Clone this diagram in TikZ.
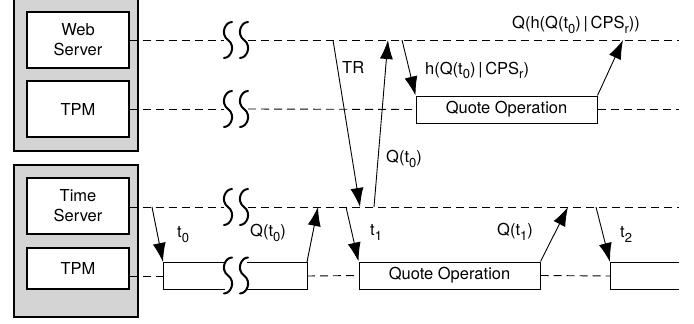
\documentclass[tikz,border=0pt]{standalone}
\usepackage{fontspec}
\setmainfont{TeX Gyre Heros}
\usetikzlibrary{arrows.meta}
% lowered subscript in the label font
\newcommand{\lsub}[1]{\raisebox{-5pt}{\fontsize{13}{13}\selectfont #1}}

\begin{document}
\begin{tikzpicture}[x=1pt,y=-1pt,
  unit/.style={draw, fill=white, line width=1.1pt, align=center, inner sep=0pt,
    minimum width=102pt, font=\fontsize{16.5}{20}\selectfont},
  opbox/.style={draw, fill=white, line width=1pt, inner sep=0pt,
    minimum height=27pt, font=\fontsize{16.5}{20}\selectfont},
  lane/.style={dash pattern=on 8pt off 5pt, line width=0.9pt},
  msg/.style={line width=0.9pt, -{Latex[length=19pt,width=13pt]}},
  lbl/.style={inner sep=0pt, anchor=base west, font=\fontsize{16.5}{20}\selectfont},
  squig/.pic={\draw[line width=2pt, line cap=round]
      (4,-18) .. controls (-3,-18) and (-8,-6) .. (0,0)
      .. controls (8,6) and (3,18) .. (-4,18);}
]
\clip (0,0) rectangle (694,324);

% platform enclosures
\draw[fill=black!17, line width=1.1pt] (14,-5) rectangle (138,151);
\draw[fill=black!17, line width=1.1pt] (14,165) rectangle (138,317);

% components
\node[unit, minimum height=56pt] (web)  at (78,40)    {Web\\Server};
\node[unit, minimum height=56pt] (tpmw) at (78,109)   {TPM};
\node[unit, minimum height=56pt] (ts)   at (78,206)   {Time\\Server};
\node[unit, minimum height=41pt] (tpmt) at (78,268.5) {TPM};

% quote operations
\node[opbox, minimum width=181pt] (qw) at (506.5,109.5) {Quote Operation};
\node[opbox, minimum width=181pt] (qt) at (449.5,275.5) {Quote Operation};

% time breaks
\coordinate (gapL) at (224,0);
\coordinate (gapR) at (248,0);
\foreach \y in {40,109,207,275.5} {
  \pic at (228,\y) {squig};
  \pic at (244,\y) {squig};
}

% life lines
\draw[lane] (web.east) -- (web.east -| gapL);
\draw[lane] (web.east -| gapR) -- (679,40);
\draw[lane] (tpmw.east) -- (tpmw.east -| gapL);
\draw[lane] (tpmw.east -| gapR) -- (qw.west);
\draw[lane] (qw.east) -- (679,109.5);
\draw[lane] (ts.east |- 0,207) -- (224,207);
\draw[lane] (248,207) -- (679,207);

% first quote operation on the time server TPM, cut by the break
\coordinate (b0nw) at (163,262);
\coordinate (b0ne) at (307,262);
\draw[line width=1pt] (225,262) -- (b0nw) -- (163,289) -- (225,289);
\draw[line width=1pt] (247,262) -- (b0ne) -- (307,289) -- (247,289);
% last quote operation, continuing past the edge
\coordinate (b2nw) at (610,262);
\draw[line width=1pt] (679,262) -- (b2nw) -- (610,289) -- (679,289);

\draw[lane] (tpmt.east |- 0,276) -- (163,276);
\draw[lane] (307,276) -- (qt.west);
\draw[lane] (qt.east) -- (610,276);

% message points on the life lines
\coordinate (trs) at (333,40);
\coordinate (tre) at (360,207);
\coordinate (q0s) at (374,207);
\coordinate (q0e) at (388,40);
\coordinate (hs)  at (402,40);
\coordinate (qhe) at (623,40);
\coordinate (t0s) at (152,207);
\coordinate (q0b) at (318,207);
\coordinate (t1s) at (346,207);
\coordinate (q1e) at (568,207);
\coordinate (t2s) at (596,207);

% messages
\draw[msg] (trs) -- (tre);
\draw[msg] (q0s) -- (q0e);
\draw[msg] (hs) -- (qw.north west);
\draw[msg] (qw.north east) -- (qhe);
\draw[msg] (t0s) -- (b0nw);
\draw[msg] (b0ne) -- (q0b);
\draw[msg] (t1s) -- (qt.north west);
\draw[msg] (qt.north east) -- (q1e);
\draw[msg] (t2s) -- (b2nw);

% labels
\node[lbl] (lTR)  at (342,73)  {TR};
\node[lbl] (lQ0a) at (386,162) {Q(t\lsub{0})};
\node[lbl] (lH)   at (425,74)  {h(Q(t\lsub{0})\,|\,CPS\lsub{r})};
\node[lbl] (lQH)  at (512,28)  {Q(h(Q(t\lsub{0})\,|\,CPS\lsub{r}))};
\node[lbl] (lt0)  at (177,237) {t\lsub{0}};
\node[lbl] (lQ0b) at (250,236) {Q(t\lsub{0})};
\node[lbl] (lt1)  at (370,235) {t\lsub{1}};
\node[lbl] (lQ1)  at (497,235) {Q(t\lsub{1})};
\node[lbl] (lt2)  at (620,237) {t\lsub{2}};
\end{tikzpicture}
\end{document}
